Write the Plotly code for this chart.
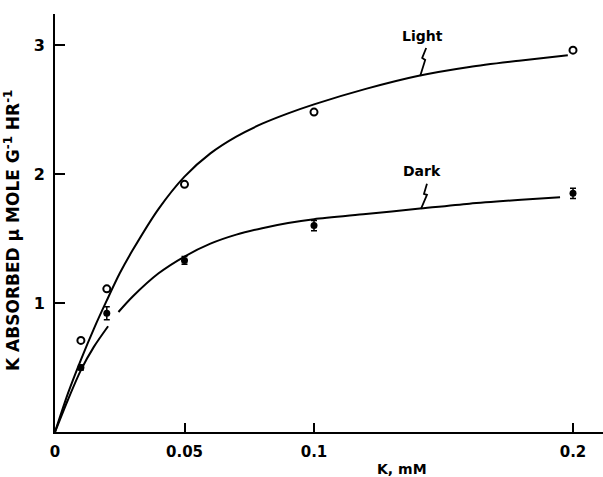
import plotly.graph_objects as go

# ---- data ----
conc = [0.01, 0.02, 0.05, 0.1, 0.2]                 # K, mM
light_vals = [0.71, 1.11, 1.92, 2.48, 2.96]          # open circles
dark_vals = [0.50, 0.92, 1.33, 1.60, 1.85]           # filled circles
dark_err = [0.02, 0.05, 0.03, 0.04, 0.04]

# hand-drawn fitted curves
light_curve_x = [0, 0.005, 0.01, 0.015, 0.02, 0.025, 0.03, 0.04, 0.05, 0.06, 0.07,
                 0.08, 0.09, 0.1, 0.12, 0.14, 0.16, 0.18, 0.198]
light_curve_y = [0, 0.30, 0.56, 0.80, 1.02, 1.23, 1.41, 1.73, 1.98, 2.16, 2.29,
                 2.39, 2.47, 2.54, 2.66, 2.76, 2.83, 2.88, 2.92]
dark_curve_x = [0, 0.005, 0.01, 0.015, 0.0205, None, 0.0245, 0.03, 0.04, 0.05, 0.06,
                0.07, 0.08, 0.09, 0.1, 0.12, 0.14, 0.16, 0.18, 0.195]
dark_curve_y = [0, 0.25, 0.48, 0.66, 0.82, None, 0.93, 1.05, 1.23, 1.36, 1.46,
                1.53, 1.58, 1.62, 1.65, 1.69, 1.73, 1.77, 1.80, 1.82]

x_tickvals = [0, 0.05, 0.1, 0.2]
x_ticktext = ["0", "0.05", "0.1", "0.2"]
y_tickvals = [1, 2, 3]
y_ticktext = ["1", "2", "3"]

FONT = "DejaVu Sans"

fig = go.Figure()
fig.add_trace(go.Scatter(x=light_curve_x, y=light_curve_y, mode="lines",
                         line=dict(color="black", width=2, shape="spline", smoothing=0.8),
                         showlegend=False, hoverinfo="skip"))
fig.add_trace(go.Scatter(x=dark_curve_x, y=dark_curve_y, mode="lines", connectgaps=False,
                         line=dict(color="black", width=2, shape="spline", smoothing=0.8),
                         showlegend=False, hoverinfo="skip"))
fig.add_trace(go.Scatter(x=conc, y=light_vals, mode="markers", name="Light",
                         marker=dict(symbol="circle-open", size=7, color="black",
                                     line=dict(width=2, color="black")),
                         showlegend=False))
fig.add_trace(go.Scatter(x=conc, y=dark_vals, mode="markers", name="Dark",
                         marker=dict(symbol="circle", size=7, color="black"),
                         error_y=dict(type="data", array=dark_err, color="black",
                                      thickness=1.5, width=3),
                         showlegend=False))

# label leaders (small zig-zag pointers), pixel offsets from anchor on curve
fig.add_shape(type="path", xref="x", yref="y", xsizemode="pixel", ysizemode="pixel",
              xanchor=0.141, yanchor=2.76, path="M 6 28 L 2 18 L 5 16 L 0 0",
              line=dict(color="black", width=1.8))
fig.add_shape(type="path", xref="x", yref="y", xsizemode="pixel", ysizemode="pixel",
              xanchor=0.1413, yanchor=1.73, path="M 6 25 L 3 15 L 6 14 L 0 0",
              line=dict(color="black", width=1.8))

fig.add_annotation(x=0.1417, y=3.07, xref="x", yref="y", text="Light", showarrow=False,
                   font=dict(family=FONT, size=14, color="black", weight="bold"))
fig.add_annotation(x=0.1417, y=2.02, xref="x", yref="y", text="Dark", showarrow=False,
                   font=dict(family=FONT, size=14, color="black", weight="bold"))

# axis titles
fig.add_annotation(xref="paper", yref="paper", x=0, y=0.5, xshift=-43, yshift=-8,
                   xanchor="center", yanchor="middle",
                   text="K ABSORBED \u03bc MOLE G<sup>-1</sup> HR<sup>-1</sup>",
                   textangle=-90, showarrow=False,
                   font=dict(family=FONT, size=17, color="black", weight="bold"))
fig.add_annotation(xref="paper", yref="paper", x=(402 - 55) / 548, y=0, yshift=-37,
                   text="K, mM", showarrow=False, yanchor="middle",
                   font=dict(family=FONT, size=14, color="black", weight="bold"))

fig.update_xaxes(range=[0, 548 / 2590], tickvals=x_tickvals, ticktext=x_ticktext,
                 showline=True, linecolor="black", linewidth=2, ticks="inside",
                 ticklen=9, tickwidth=2, tickcolor="black", showgrid=False, zeroline=False,
                 ticklabelstandoff=5,
                 tickfont=dict(family=FONT, size=15, color="black", weight="bold"))
fig.update_yaxes(range=[0, 418 / 129], tickvals=y_tickvals, ticktext=y_ticktext,
                 showline=True, linecolor="black", linewidth=2, ticks="inside",
                 ticklen=10, tickwidth=2, tickcolor="black", showgrid=False, zeroline=False,
                 ticklabelstandoff=5,
                 tickfont=dict(family=FONT, size=16, color="black", weight="bold"))

fig.update_layout(width=603, height=477, margin=dict(l=55, r=0, t=14, b=45),
                  paper_bgcolor="white", plot_bgcolor="white", showlegend=False)

fig.write_html("out.html")
